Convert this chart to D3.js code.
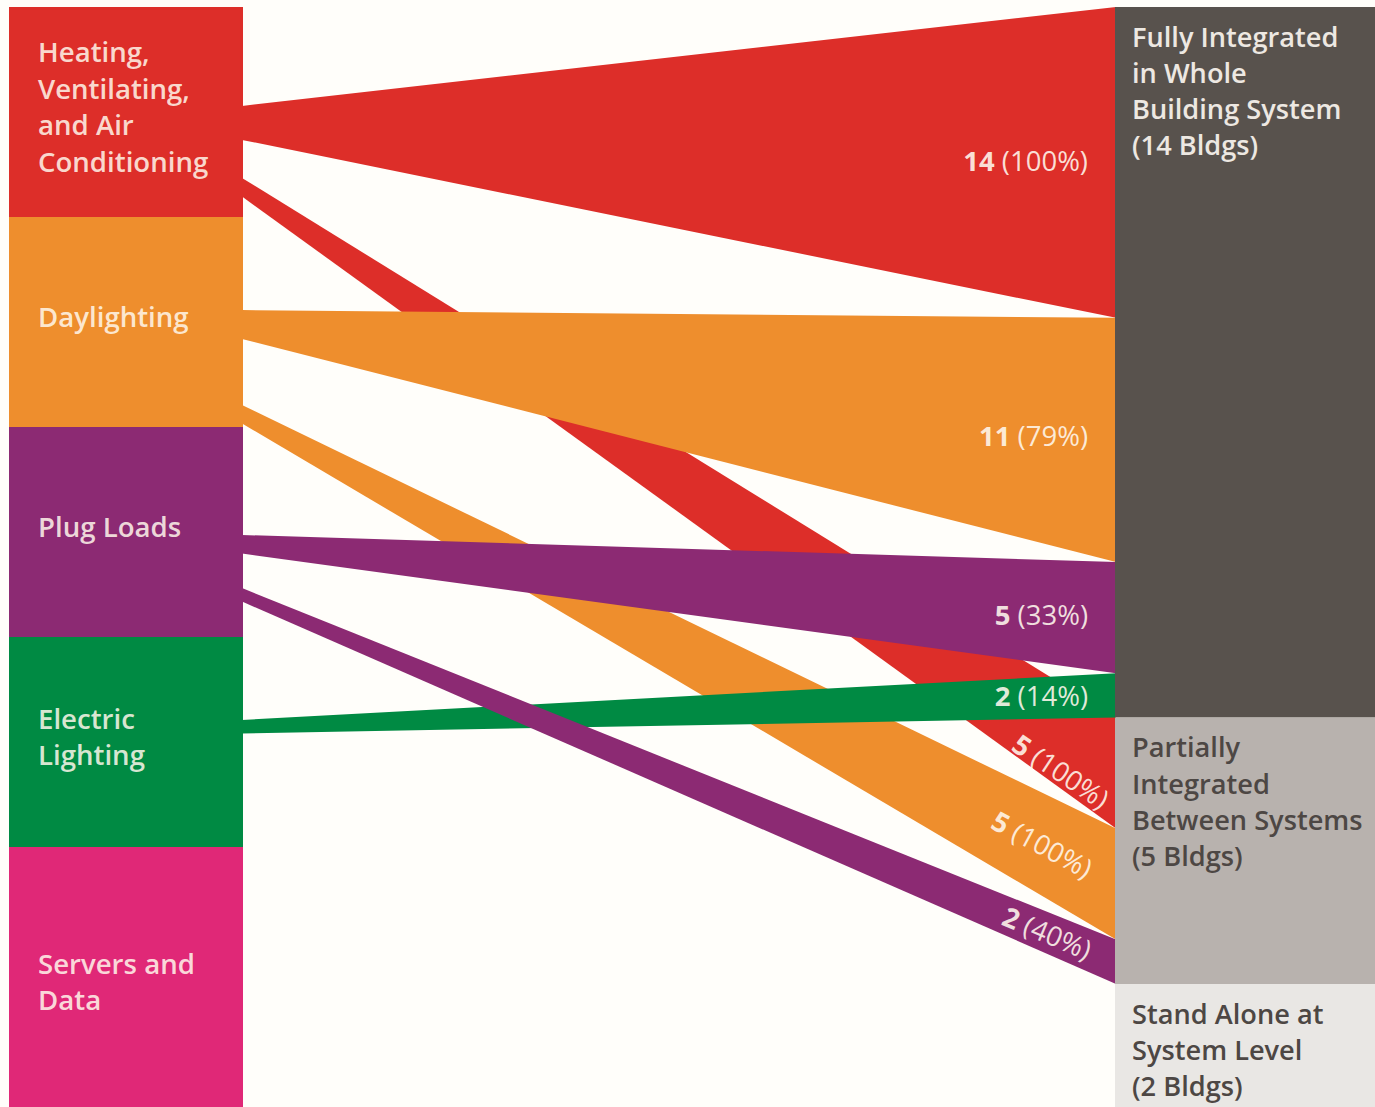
<!DOCTYPE html>
<html>
<head>
<meta charset="utf-8">
<script src="https://cdn.jsdelivr.net/npm/d3@7"></script>
<style>
  html, body { margin: 0; padding: 0; background: #fffefa; }
  svg { display: block; }
  text { font-family: "Open Sans", "DejaVu Sans", sans-serif; }
</style>
</head>
<body>
<svg id="chart" width="1375" height="1107"></svg>
<script>
// Building systems (left column)
const systems = ["HVAC", "Daylighting", "Plug Loads", "Electric Lighting", "Servers and Data"];
const systemLabels = [
  ["Heating,", "Ventilating,", "and Air", "Conditioning"],
  ["Daylighting"],
  ["Plug Loads"],
  ["Electric", "Lighting"],
  ["Servers and", "Data"]
];
const systemColors = ["#dd2e29", "#ee8e2d", "#8c2a73", "#008a43", "#e02877"];

// Integration levels (right column)
const levels = ["Fully Integrated", "Partially Integrated", "Stand Alone"];
const levelLabels = [
  ["Fully Integrated", "in Whole", "Building System"],
  ["Partially", "Integrated", "Between Systems"],
  ["Stand Alone at", "System Level"]
];
const levelBuildings = [14, 5, 2];
const levelColors = ["#58524d", "#b8b2ae", "#e9e7e4"];
const levelTextColors = ["#ede8e2", "#4d4744", "#4d4744"];

// Links: system -> integration level, number of buildings and share of that system
const linkSource = [0, 1, 2, 3, 0, 1, 2];
const linkTarget = [0, 0, 0, 0, 1, 1, 2];
const linkBuildings = [14, 11, 5, 2, 5, 5, 2];
const linkShare = [100, 79, 33, 14, 100, 100, 40];

// ---------------------------------------------------------------- layout
const W = 1375, H = 1107;
const leftX = [9, 243], rightX = [1115, 1375];
const svg = d3.select("#chart");

const band = d3.scaleBand().domain(systems).range([7, 1057]);
const total = d3.sum(linkBuildings);
const yRight = d3.scaleLinear().domain([0, total]).range([7, 984]);
const leftWidth = d3.scaleLinear().domain([0, 14]).range([10, 34]);
// where each link leaves its system block, as a share of the block height
const exitAt = [0.471, 0.443, 0.514, 0.395, 0.814, 0.895, 0.767];
// stacking order of the links (later = on top)
const layer = [0, 1, 3, 2];

let cum = 0;
const links = linkSource.map((s, i) => {
  const y0 = band(systems[s]) + exitAt[i] * band.bandwidth();
  const l = {
    i, s, t: linkTarget[i], v: linkBuildings[i], p: linkShare[i],
    lt: y0, lb: y0 + leftWidth(linkBuildings[i]),
    rt: yRight(cum), rb: yRight(cum + linkBuildings[i])
  };
  cum += linkBuildings[i];
  return l;
});
const drawn = links.slice().sort((a, b) => layer[a.s] - layer[b.s]);

const at = (y0, y1, x) => y0 + (y1 - y0) * (x - leftX[1]) / (rightX[0] - leftX[1]);
const line = d3.line();

svg.append("rect").attr("width", W).attr("height", H).attr("fill", "#fffefa");

// links
svg.append("g").selectAll("path").data(drawn).join("path")
  .attr("d", d => line([[leftX[1] - 1, d.lt], [rightX[0] + 1, d.rt], [rightX[0] + 1, d.rb], [leftX[1] - 1, d.lb]]) + "Z")
  .attr("fill", d => systemColors[d.s]);

// system blocks; the last one runs off the bottom edge
const sysG = svg.append("g").selectAll("g").data(systems).join("g");
sysG.append("rect")
  .attr("x", leftX[0]).attr("width", leftX[1] - leftX[0])
  .attr("y", d => band(d))
  .attr("height", (d, i) => i === systems.length - 1 ? H + 20 - band(d) : band.bandwidth())
  .attr("fill", (d, i) => systemColors[i]);
sysG.each(function (d, i) {
  const lines = systemLabels[i];
  const y0 = band(d);
  const y1 = i === systems.length - 1 ? H + 20 : y0 + band.bandwidth();
  const cy = (y0 + y1) / 2 - 5;
  const lh = 36.5;
  d3.select(this).selectAll("text").data(lines).join("text")
    .attr("x", 38)
    .attr("y", (t, k) => cy + (k - (lines.length - 1) / 2) * lh)
    .attr("dy", "0.36em")
    .attr("font-size", 27.6).attr("font-weight", 600)
    .attr("fill", "#fff8ec").attr("fill-opacity", 0.86)
    .text(t => t);
});

// integration level blocks
const fullyEnd = yRight(d3.sum(links.filter(l => l.t === 0), l => l.v));
const spans = [[yRight(0), fullyEnd], [fullyEnd, yRight(total)], [yRight(total), H + 20]];
const lvG = svg.append("g").selectAll("g").data(levels).join("g");
lvG.append("rect")
  .attr("x", rightX[0]).attr("width", rightX[1] - rightX[0])
  .attr("y", (d, i) => spans[i][0])
  .attr("height", (d, i) => spans[i][1] - spans[i][0])
  .attr("fill", (d, i) => levelColors[i]);
lvG.each(function (d, i) {
  const lines = levelLabels[i].concat([`(${levelBuildings[i]} Bldgs)`]);
  d3.select(this).selectAll("text").data(lines).join("text")
    .attr("x", 1132)
    .attr("y", (t, k) => spans[i][0] + 30 + k * 36.2)
    .attr("dy", "0.36em")
    .attr("font-size", 27.2).attr("font-weight", 600)
    .attr("fill", levelTextColors[i])
    .text(t => t);
});

// link value labels
const labelG = svg.append("g");
links.forEach(l => {
  const slope = ((l.rt - l.lt) + (l.rb - l.lb)) / 2 / (rightX[0] - leftX[1]);
  const g = labelG.append("text")
    .attr("font-size", 27.5)
    .attr("fill", "#fff8ee").attr("fill-opacity", 0.88)
    .attr("dy", "0.36em");
  g.append("tspan").attr("font-weight", 700).text(l.v + " ");
  g.append("tspan").attr("font-weight", 400).text(`(${l.p}%)`);

  if (Math.abs(slope) < 0.3) {
    const x = 1088;
    g.attr("text-anchor", "end")
      .attr("transform", `translate(${x},${(at(l.lt, l.rt, x) + at(l.lb, l.rb, x)) / 2})`);
  } else {
    // rotated along the band, centred in the visible part of it
    const ang = Math.atan(slope);
    const half = g.node().getComputedTextLength() / 2;
    let top0 = at(l.lt, l.rt, 1090), clamped = false;
    drawn.filter(o => layer[o.s] > layer[l.s]).forEach(o => {
      const ob = at(o.lb, o.rb, 1090), ot = at(o.lt, o.rt, 1090);
      if (ob > top0 && ot <= top0) clamped = true;
    });
    const xe = clamped ? 1106 : 1090;
    const xm = xe - half * Math.cos(ang);
    let top = at(l.lt, l.rt, xm);
    const bot = at(l.lb, l.rb, xm);
    drawn.filter(o => layer[o.s] > layer[l.s]).forEach(o => {
      const ob = at(o.lb, o.rb, xm), ot = at(o.lt, o.rt, xm);
      if (ob > top && ot <= top) top = ob;
    });
    const ym = clamped ? top + (bot - top) * 0.75 : (top + bot) / 2;
    g.attr("text-anchor", "middle")
      .attr("transform", `translate(${xm},${ym}) rotate(${ang * 180 / Math.PI})`);
  }
});
</script>
</body>
</html>
